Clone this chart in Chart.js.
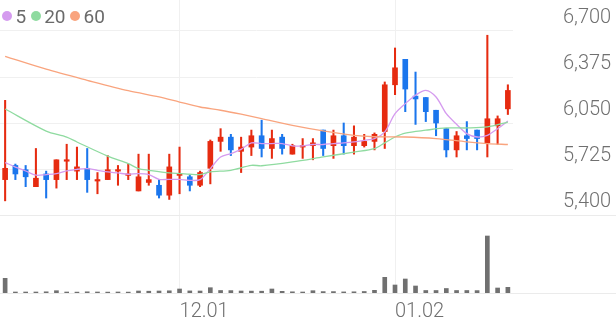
<!DOCTYPE html>
<html>
<head>
<meta charset="utf-8">
<script src="https://cdn.jsdelivr.net/npm/chart.js@4.4.1/dist/chart.umd.min.js"></script>
<style>
  body { margin: 0; background: #fff; }
  #wrap { position: relative; width: 616px; height: 321px; }
  #legend { position: absolute; left: 2px; top: 4px; height: 24px; display: flex; align-items: center;
            font-family: Roboto, sans-serif; font-weight: 400; font-size: 19px; color: #6a6a6a; }
  #legend .item { display: flex; align-items: center; margin-right: 4.5px; }
  #legend .dot { width: 10px; height: 10px; border-radius: 50%; margin-right: 3.5px; }
</style>
</head>
<body>
<div id="wrap">
  <canvas id="chart" width="616" height="321"></canvas>
  <div id="legend"></div>
</div>
<script>
// obchodní dny (MM.DD)
const days = [
  '11.06','11.07','11.10','11.11','11.12','11.13','11.14','11.17','11.18','11.19',
  '11.20','11.21','11.24','11.25','11.26','11.27','11.28','12.01','12.02','12.03',
  '12.04','12.05','12.08','12.09','12.10','12.11','12.12','12.15','12.16','12.17',
  '12.18','12.19','12.22','12.23','12.24','12.26','12.29','12.30','01.02','01.05',
  '01.06','01.07','01.08','01.09','01.12','01.13','01.14','01.15','01.16','01.19'
];
const shownDays = ['12.01', '01.02'];

const opens  = [5650,5750,5720,5600,5690,5650,5780,5710,5730,5640,5650,5710,5680,5570,5630,5610,5540,5680,5670,5610,
                5730,5920,5950,5850,5880,5960,5870,5950,5830,5880,5890,6000,5890,5960,5890,5890,5920,5990,6320,6500,
                6240,6230,6140,6010,5860,5960,6000,5910,6030,6150];
const highs  = [6210,5760,5750,5870,5710,5790,5900,5880,5870,5700,5820,5750,5760,5830,5830,5650,5830,5880,5680,5710,
                5930,6010,5970,5950,6000,6070,6000,5970,5900,5940,5940,6000,6000,6050,6030,5970,5980,6340,6580,6500,
                6410,6230,6140,6010,5990,6060,6000,6670,6100,6320];
const lows   = [5500,5650,5600,5600,5520,5590,5650,5650,5560,5550,5650,5610,5650,5570,5610,5520,5510,5550,5570,5600,
                5620,5850,5820,5700,5820,5810,5800,5830,5830,5800,5790,5820,5800,5830,5830,5880,5860,5870,6250,6130,
                6040,6060,5960,5810,5810,5860,5860,5810,5900,6110];
const closes = [5730,5690,5670,5660,5650,5790,5790,5740,5650,5650,5720,5720,5690,5670,5650,5540,5740,5690,5610,5700,
                5920,5950,5860,5880,5960,5870,5940,5870,5890,5890,5910,5870,5960,5890,5950,5920,5970,6320,6440,6290,
                6220,6130,6050,5860,5960,5940,5940,6080,6080,6280];
const volumes = [147000,10000,10000,10000,12000,23000,10000,9000,12000,10000,9000,10000,9000,20000,18000,20000,22000,40000,21000,20000,
                 53000,25000,24000,20000,19000,18000,40000,17000,12000,10000,23000,14000,14000,11000,12000,15000,27000,157000,80000,140000,
                 70000,25000,25000,45000,25000,25000,24000,570000,50000,57000];

// klouzavé průměry
const ma5 = [5770,5739,5711,5681,5686,5693,5711,5723,5728,5716,5704,5697,5688,5693,5686,5652,5652,5652,5645,5650,
             5728,5810,5834,5864,5909,5905,5905,5905,5888,5888,5898,5898,5905,5909,5916,5928,5940,5987,6116,6187,
             6246,6281,6234,6116,6041,5975,5951,5963,6010,6064];
const ma20 = [6149,null,null,null,5993,null,5951,5916,null,null,5816,null,5763,5728,5716,null,5697,null,5688,5686,
              5704,null,5716,null,5751,5748,null,null,5775,null,null,5810,null,null,5845,null,5869,5910,5951,5979,
              null,5999,null,6015,null,6015,null,6022,null,6057];
const ma60 = [6521,null,null,null,6430,null,null,null,6352,null,null,null,6278,null,null,6234,null,6198,null,6163,
              null,6140,null,6112,null,6081,null,null,6034,null,null,5995,null,null,5963,null,5953,null,null,5951,
              null,null,5940,null,null,5917,null,5905,null,5898];

const priceTicks = [5400, 5725, 6050, 6375, 6700];
const maNames = ['5', '20', '60'];
const maColors = ['#d59bef', '#8fdba0', '#f9a47e'];

const upColor = '#e62b10';
const downColor = '#1b76ed';
const candleColors = opens.map((o, i) => closes[i] >= o ? upColor : downColor);

const tickFont = { family: 'Roboto', size: 20, weight: 300 };

// čáry oddělující cenu a objem přes celou šířku
const paneLines = {
    id: 'paneLines',
    beforeDatasetsDraw(chart) {
        const { ctx, width, chartArea, scales } = chart;
        ctx.save();
        ctx.strokeStyle = '#ebebeb';
        ctx.lineWidth = 1;
        [scales.y.getPixelForValue(priceTicks[0]), chartArea.bottom].forEach(y => {
            const yy = Math.round(y) + 0.5;
            ctx.beginPath();
            ctx.moveTo(0, yy);
            ctx.lineTo(width, yy);
            ctx.stroke();
        });
        ctx.restore();
    }
};

function maDataset(data, idx) {
    return {
        type: 'line',
        label: maNames[idx],
        data: data,
        yAxisID: 'y',
        borderColor: maColors[idx],
        borderWidth: 1.3,
        pointRadius: 0,
        tension: 0.3,
        spanGaps: true,
        order: 0
    };
}

const ctx = document.getElementById('chart').getContext('2d');
new Chart(ctx, {
    type: 'bar',
    data: {
        labels: days,
        datasets: [
            maDataset(ma60, 2),
            maDataset(ma20, 1),
            maDataset(ma5, 0),
            {
                label: 'knot',
                data: lows.map((l, i) => [l, highs[i]]),
                yAxisID: 'y',
                backgroundColor: candleColors,
                barThickness: 1.4,
                grouped: false,
                order: 2
            },
            {
                label: 'tělo',
                data: opens.map((o, i) => [o, closes[i]]),
                yAxisID: 'y',
                backgroundColor: candleColors,
                barThickness: 5,
                minBarLength: 1.5,
                grouped: false,
                order: 1
            },
            {
                label: 'objem',
                data: volumes,
                yAxisID: 'yv',
                backgroundColor: '#707070',
                barThickness: 4,
                grouped: false,
                order: 3
            }
        ]
    },
    options: {
        responsive: false,
        animation: false,
        devicePixelRatio: 1,
        layout: { padding: 0 },
        plugins: {
            legend: { display: false },
            tooltip: { enabled: false }
        },
        scales: {
            x: {
                type: 'category',
                offset: true,
                border: { display: false },
                grid: { offset: false, color: '#f0f0f0', drawTicks: false },
                ticks: {
                    autoSkip: false, maxRotation: 0, align: 'start', padding: 7,
                    font: tickFont, color: '#707070'
                },
                afterBuildTicks: s => {
                    s.ticks = s.ticks.filter(t => shownDays.includes(days[t.value]));
                },
                afterFit: s => {
                    s.height = 28;
                    s.paddingLeft = 0;
                    s.paddingRight = 0;
                }
            },
            y: {
                position: 'right',
                min: 4849,
                max: 6919,
                border: { display: false },
                grid: { color: '#f0f0f0', drawTicks: false },
                ticks: {
                    padding: 50, labelOffset: -13, font: tickFont, color: '#707070',
                    callback: v => v.toLocaleString('en-US')
                },
                afterBuildTicks: s => { s.ticks = priceTicks.map(v => ({ value: v })); },
                afterFit: s => {
                    s.width = 103;
                    s.paddingTop = 0;    // jinak padding popisků zmenší plochu grafu
                    s.paddingBottom = 0;
                }
            },
            yv: {
                display: false,
                min: 0,
                max: 2930000
            }
        }
    },
    plugins: [paneLines]
});

// legenda klouzavých průměrů
const legend = document.getElementById('legend');
maNames.forEach((name, i) => {
    const item = document.createElement('span');
    item.className = 'item';
    const dot = document.createElement('span');
    dot.className = 'dot';
    dot.style.background = maColors[i];
    const text = document.createElement('span');
    text.textContent = name;
    item.appendChild(dot);
    item.appendChild(text);
    legend.appendChild(item);
});
</script>
</body>
</html>
